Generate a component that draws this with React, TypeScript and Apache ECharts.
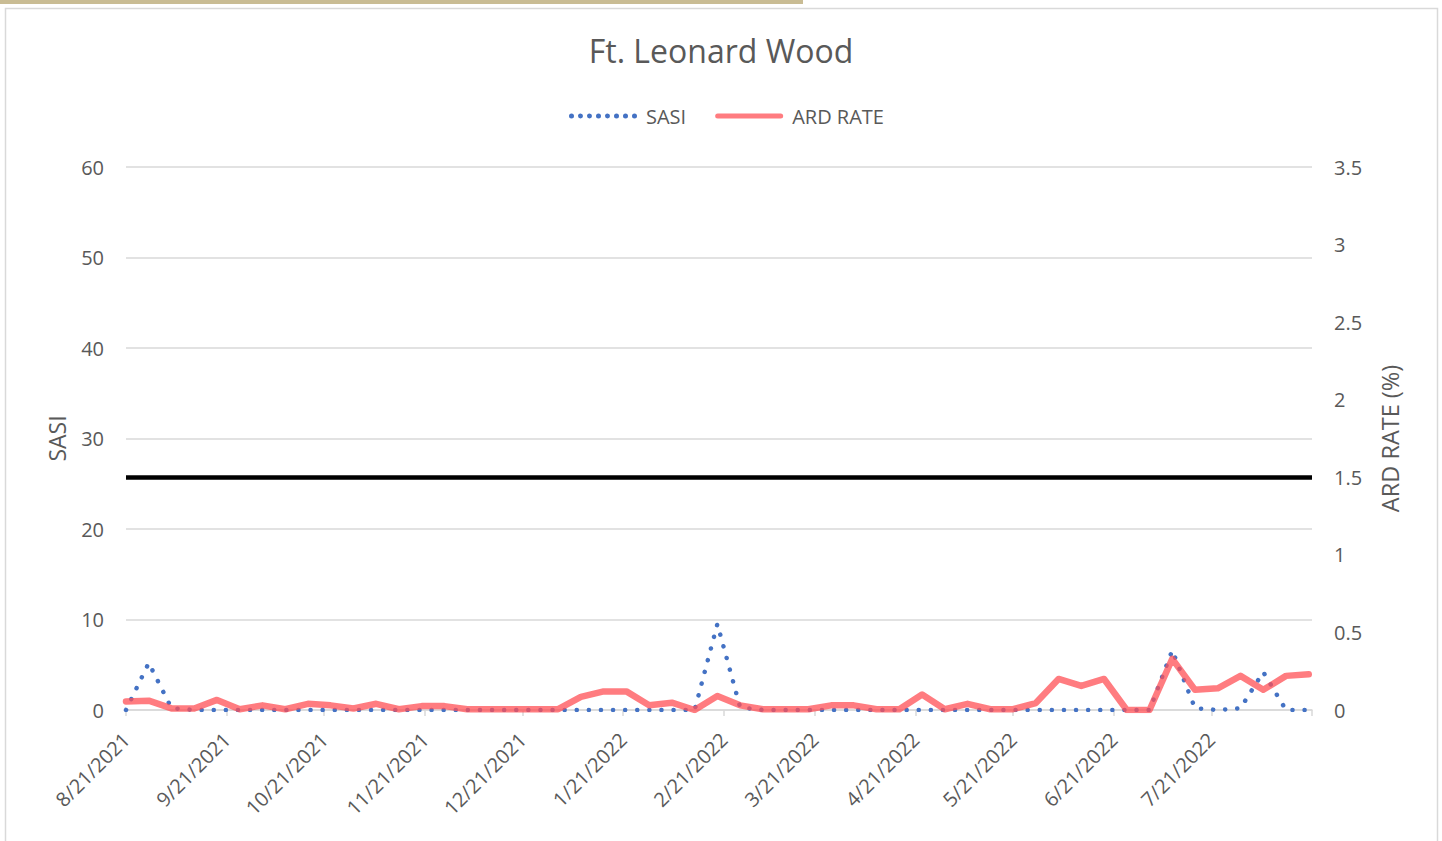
import React, { useEffect, useRef } from "react";
import * as echarts from "echarts";

const weekDates = [
  "2021-08-21", "2021-08-28", "2021-09-04", "2021-09-11", "2021-09-18", "2021-09-25",
  "2021-10-02", "2021-10-09", "2021-10-16", "2021-10-23", "2021-10-30",
  "2021-11-06", "2021-11-13", "2021-11-20", "2021-11-27",
  "2021-12-04", "2021-12-11", "2021-12-18", "2021-12-25",
  "2022-01-01", "2022-01-08", "2022-01-15", "2022-01-22", "2022-01-29",
  "2022-02-05", "2022-02-12", "2022-02-19", "2022-02-26",
  "2022-03-05", "2022-03-12", "2022-03-19", "2022-03-26",
  "2022-04-02", "2022-04-09", "2022-04-16", "2022-04-23", "2022-04-30",
  "2022-05-07", "2022-05-14", "2022-05-21", "2022-05-28",
  "2022-06-04", "2022-06-11", "2022-06-18", "2022-06-25",
  "2022-07-02", "2022-07-09", "2022-07-16", "2022-07-23", "2022-07-30",
  "2022-08-06", "2022-08-13", "2022-08-20",
];

const sasiValues = [
  0, 5.2, 0.2, 0, 0, 0, 0, 0, 0, 0, 0,
  0, 0, 0, 0, 0, 0, 0, 0, 0, 0, 0, 0, 0,
  0, 0, 9.5, 0.3, 0, 0, 0, 0, 0, 0, 0, 0, 0,
  0, 0, 0, 0, 0, 0, 0, 0, 0, 6.6, 0.2, 0, 0.2,
  4.2, 0, 0,
];

const ardValues = [
  0.055, 0.06, 0.01, 0.01, 0.065, 0.005, 0.03, 0.005, 0.04, 0.03, 0.01,
  0.04, 0.005, 0.025, 0.025, 0.005, 0.005, 0.005, 0.005, 0.005, 0.085, 0.12, 0.12, 0.03,
  0.047, 0, 0.09, 0.03, 0.005, 0.005, 0.005, 0.03, 0.03, 0.005, 0.005, 0.1, 0.005,
  0.04, 0.005, 0.005, 0.045, 0.2, 0.155, 0.2, 0, 0, 0.33, 0.13, 0.14, 0.22,
  0.13, 0.22, 0.23,
];

const ardThreshold = 1.5;

const monthTickDates = [
  "2021-08-21", "2021-09-21", "2021-10-21", "2021-11-21", "2021-12-21",
  "2022-01-21", "2022-02-21", "2022-03-21", "2022-04-21", "2022-05-21",
  "2022-06-21", "2022-07-21",
];
const axisEndDate = "2022-08-21";

const FONT = "'Open Sans', sans-serif";
const TEXT = "#595959";
const GRID = "#d9d9d9";

// legend icons: a row of dots, and a rounded bar
const dotsIcon =
  "path://" +
  [0, 1, 2, 3, 4, 5, 6, 7]
    .map((k) => {
      const cx = 2.5 + k * 9;
      return `M${cx - 2.5},2.5 A2.5,2.5 0 1 0 ${cx + 2.5},2.5 A2.5,2.5 0 1 0 ${cx - 2.5},2.5 Z`;
    })
    .join(" ");
const barIcon = "path://M2.5,0 L65.5,0 A2.5,2.5 0 0 1 65.5,5 L2.5,5 A2.5,2.5 0 0 1 2.5,0 Z";

function ts(s: string): number {
  const [y, m, d] = s.split("-").map(Number);
  return Date.UTC(y, m - 1, d);
}
const DAY = 86400000;
const origin = ts(weekDates[0]);
function dayOf(s: string): number {
  return Math.round((ts(s) - origin) / DAY);
}
function usLabel(s: string): string {
  const [y, m, d] = s.split("-").map(Number);
  return `${m}/${d}/${y}`;
}

export default function App() {
  const ref = useRef<HTMLDivElement>(null);

  useEffect(() => {
    if (!ref.current) return;
    const chart = echarts.init(ref.current, undefined, { renderer: "svg" });
    const labelTicks = monthTickDates.map(dayOf);
    const allTicks = [...labelTicks, dayOf(axisEndDate)];
    const labelMap: Record<number, string> = {};
    monthTickDates.forEach((s) => {
      labelMap[dayOf(s)] = usLabel(s);
    });

    chart.setOption({
      animation: false,
      backgroundColor: "#ffffff",
      title: {
        text: "Ft. Leonard Wood",
        left: "center",
        top: 29,
        textStyle: { fontFamily: FONT, fontSize: 32, fontWeight: "normal", color: TEXT },
      },
      legend: {
        top: 101,
        left: 564,
        itemWidth: 68,
        itemHeight: 5,
        itemGap: 29,
        textStyle: { fontFamily: FONT, fontSize: 20, color: TEXT, padding: [0, 0, 0, 4] },
        data: [
          { name: "SASI", icon: dotsIcon, itemStyle: { color: "#4472C4" } },
          { name: "ARD RATE", icon: barIcon, itemStyle: { color: "#FF7C80" } },
        ],
      },
      grid: { left: 126, right: 130, top: 167, bottom: 131, containLabel: false },
      xAxis: {
        type: "value",
        min: 0,
        max: dayOf(axisEndDate),
        axisLine: { show: true, lineStyle: { color: GRID, width: 1.5 } },
        axisTick: { show: true, length: 6, customValues: allTicks, lineStyle: { color: GRID, width: 1.5 } },
        splitLine: { show: false },
        axisLabel: {
          customValues: labelTicks,
          rotate: 45,
          margin: 26,
          fontFamily: FONT,
          fontSize: 20,
          color: TEXT,
          hideOverlap: false,
          formatter: (v: number) => labelMap[Math.round(v)] ?? "",
        },
      },
      yAxis: [
        {
          type: "value",
          min: 0,
          max: 60,
          interval: 10,
          name: "SASI",
          nameLocation: "middle",
          nameGap: 58,
          nameTextStyle: { fontFamily: FONT, fontSize: 23, color: TEXT },
          axisLine: { show: false },
          axisTick: { show: false },
          splitLine: { show: true, lineStyle: { color: GRID, width: 1.5 } },
          axisLabel: { fontFamily: FONT, fontSize: 20, color: TEXT, margin: 22 },
        },
        {
          type: "value",
          min: 0,
          max: 3.5,
          interval: 0.5,
          name: "ARD RATE (%)",
          nameLocation: "middle",
          nameGap: 66,
          nameTextStyle: { fontFamily: FONT, fontSize: 23.5, color: TEXT },
          axisLine: { show: false },
          axisTick: { show: false },
          splitLine: { show: false },
          axisLabel: { fontFamily: FONT, fontSize: 20, color: TEXT, margin: 22 },
        },
      ],
      series: [
        {
          name: "SASI",
          type: "line",
          yAxisIndex: 0,
          symbol: "none",
          color: "#4472C4",
          lineStyle: { color: "#4472C4", width: 4.5, type: [0.1, 12], cap: "round" },
          data: weekDates.map((d, i) => [dayOf(d), sasiValues[i]]),
          z: 2,
        },
        {
          name: "ARD RATE",
          type: "line",
          yAxisIndex: 1,
          symbol: "none",
          color: "#FF7C80",
          lineStyle: { color: "rgba(255,80,86,0.75)", width: 6.5, join: "round", cap: "round" },
          data: weekDates.map((d, i) => [dayOf(d), ardValues[i]]),
          markLine: {
            silent: true,
            symbol: "none",
            label: { show: false },
            lineStyle: { color: "#000000", width: 4.5, type: "solid" },
            data: [{ yAxis: ardThreshold }],
          },
          z: 3,
        },
      ],
      graphic: [
        {
          type: "rect",
          silent: true,
          shape: { x: 5.5, y: 8.5, width: 1432, height: 860 },
          style: { fill: "none", stroke: GRID, lineWidth: 1.5 },
          z: -1,
        },
        {
          type: "rect",
          silent: true,
          shape: { x: 0, y: 0, width: 803, height: 4 },
          style: { fill: "#c9bc94" },
        },
      ],
    });

    return () => chart.dispose();
  }, []);

  return (
    <div
      ref={ref}
      style={{ position: "fixed", left: 0, top: 0, width: 1442, height: 841, background: "#fff" }}
    />
  );
}
